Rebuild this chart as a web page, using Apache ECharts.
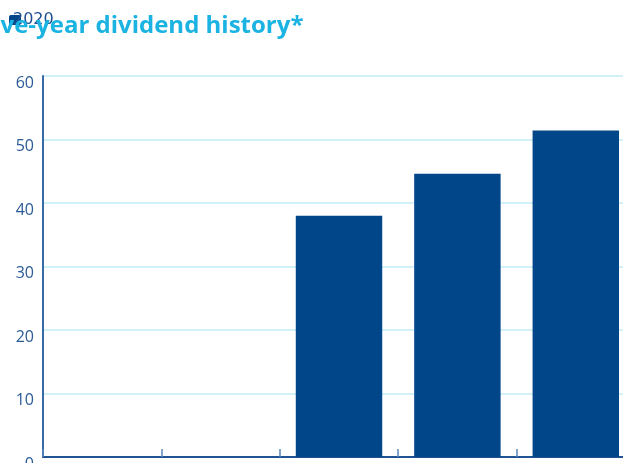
<!DOCTYPE html>
<html>
<head>
<meta charset="utf-8">
<script src="https://cdn.jsdelivr.net/npm/echarts@6/dist/echarts.min.js"></script>
<style>
  html, body { margin: 0; padding: 0; background: #ffffff; }
  #chart { width: 623px; height: 463px; }
</style>
</head>
<body>
<div id="chart"></div>
<script>
// Dividend per share, by financial year
const years = ['2016', '2017', '2018', '2019', '2020'];
const dividends = [null, null, 38.0, 44.6, 51.4];
const seriesName = '2020';
const yTicks = { min: 0, max: 60, interval: 10 };

const chart = echarts.init(document.getElementById('chart'));
chart.setOption({
  animation: false,
  title: {
    text: 'Five-year dividend history*',
    left: -25,
    top: 9,
    textStyle: {
      color: '#1bb3e2',
      fontFamily: 'Open Sans',
      fontWeight: 'bold',
      fontSize: 24
    }
  },
  legend: {
    left: 9,
    top: 12,
    padding: 0,
    itemWidth: 12,
    itemHeight: 10,
    itemGap: 0,
    icon: 'path://M2,0 L10,0 Q12,0 12,2 L12,8 Q12,10 10,10 L2,10 Q0,10 0,8 L0,2 Q0,0 2,0 Z',
    data: [seriesName],
    itemStyle: { color: '#02468a' },
    textStyle: {
      color: '#1f4f8e',
      fontFamily: 'DejaVu Sans',
      fontSize: 16,
      padding: [0, 0, 0, -13]
    }
  },
  grid: {
    left: 43,
    right: -12,
    top: 76,
    bottom: 6,
    containLabel: false,
    outerBoundsMode: 'none'
  },
  xAxis: {
    type: 'category',
    data: years,
    axisLine: { lineStyle: { color: '#1f5391', width: 2 } },
    axisTick: { show: true, inside: true, length: 8, lineStyle: { color: '#5b86bb', width: 1.5 } },
    axisLabel: { color: '#1f4f8e', fontSize: 15, fontFamily: 'Open Sans' }
  },
  yAxis: {
    type: 'value',
    min: yTicks.min,
    max: yTicks.max,
    interval: yTicks.interval,
    axisLine: { show: true, lineStyle: { color: '#3a6aa5', width: 2 } },
    axisTick: { show: false },
    axisLabel: {
      color: '#2a5b97',
      fontSize: 16,
      fontFamily: 'Open Sans',
      margin: 9,
      verticalAlign: 'top',
      padding: [-1, 0, 0, 0]
    },
    splitLine: { lineStyle: { color: '#c3ebf5', width: 1.5 } }
  },
  series: [{
    name: seriesName,
    type: 'bar',
    data: dividends,
    barWidth: '73%',
    itemStyle: { color: '#02468a' }
  }]
});
</script>
</body>
</html>
